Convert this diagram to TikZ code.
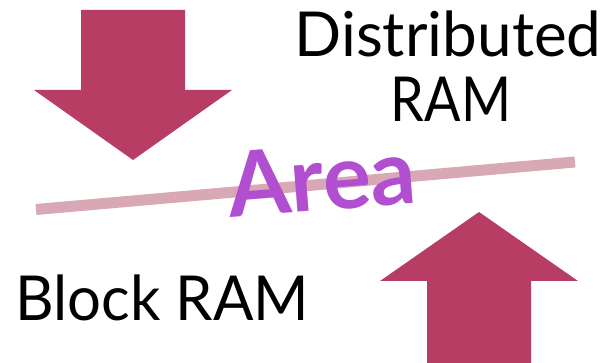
\documentclass[tikz,border=0pt]{standalone}
\usepackage{fontspec}
\setmainfont{Lato}
\definecolor{arrowred}{RGB}{184,61,101}
\definecolor{linepink}{RGB}{216,168,181}
\definecolor{areapurple}{RGB}{178,78,208}
\begin{document}
\begin{tikzpicture}[x=1pt,y=-1pt,
  bigarrow/.style={fill=arrowred,draw=none},
  label/.style={inner sep=0pt,font=\fontsize{62}{66}\selectfont}]
\useasboundingbox (0,0) rectangle (611,363);
% down arrow
\fill[bigarrow] (81,10) -- (185,10) -- (185,90) -- (232,90) -- (133,160) -- (34,90) -- (81,90) -- cycle;
% up arrow
\fill[bigarrow] (479,212) -- (578,281) -- (531,281) -- (531,363) -- (427,363) -- (427,281) -- (380,281) -- cycle;
% line
\coordinate (l1) at (36,209.5);
\coordinate (l2) at (575,162);
\draw[linepink,line width=11pt] (l1) -- (l2);
% Area text
\node[inner sep=0pt,rotate=4.5,text=areapurple,font=\fontsize{90}{94}\bfseries\selectfont] (area) at (322,178) {Area};
% labels
\node[label,anchor=base] (dist) at (448,57) {Distributed};
\node[label,anchor=base,xscale=0.87] (ram) at (451,122) {RAM};
\node[label,anchor=base west,xscale=0.965] (block) at (15,321) {Block RAM};
\end{tikzpicture}
\end{document}
